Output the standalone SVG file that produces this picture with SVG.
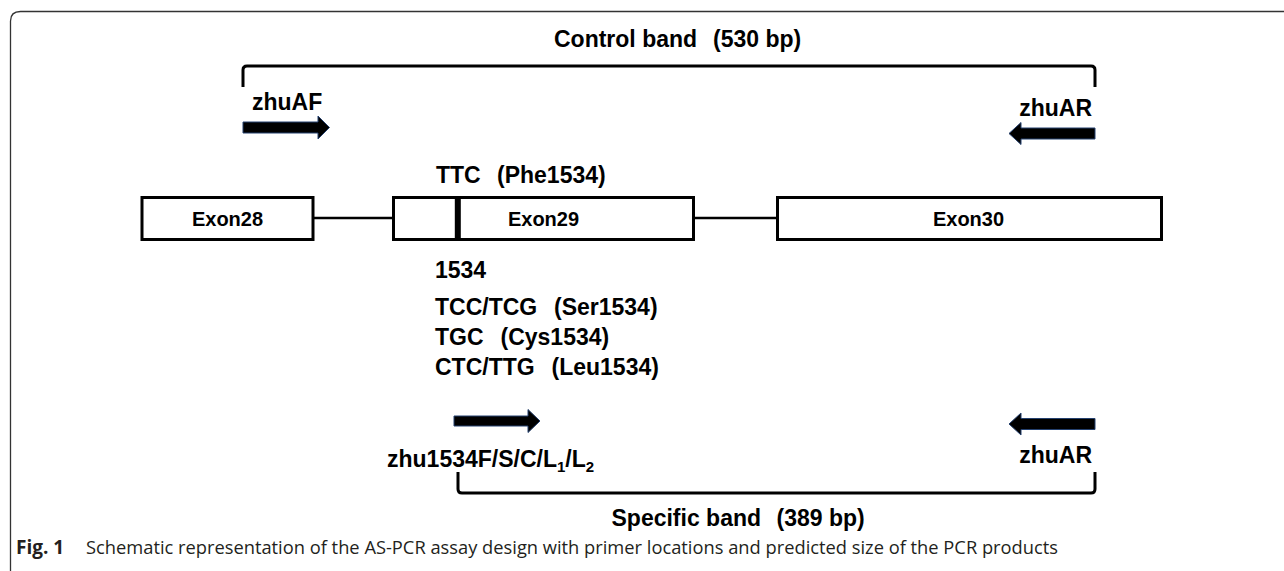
<svg xmlns="http://www.w3.org/2000/svg" width="1284" height="571" viewBox="0 0 1284 571">
<style>
.t{font-family:"Liberation Sans",Arial,sans-serif;font-weight:bold;font-size:23px;fill:#000}
.ex{font-family:"Liberation Sans",Arial,sans-serif;font-weight:bold;font-size:20px;fill:#000;text-anchor:middle}
.box{fill:#fff;stroke:#000;stroke-width:3}
.intron{stroke:#000;stroke-width:2.5;fill:none}
.br{stroke:#000;stroke-width:3;fill:none}
.arr{fill:#000;stroke:#24406e;stroke-width:1}
.cap{font-family:"Open Sans","Noto Sans",sans-serif;font-size:19px;fill:#231f20}
</style>
<rect x="0" y="0" width="1284" height="571" fill="#fff"/>
<path d="M10.5,571 V21 Q10.5,11.5 20.5,11.5 H1284" fill="none" stroke="#333" stroke-width="1.3"/>

<g id="control-band">
<path class="br" d="M243,87 V70 Q243,66 247,66 H1091 Q1095,66 1095,70 V87"/>
<text class="t" y="47"><tspan x="554">Control band</tspan><tspan x="713">(530 bp)</tspan></text>
</g>

<g id="zhuAF">
<text class="t" x="252" y="110">zhuAF</text>
<polygon class="arr" points="243,122 318,122 318,116 329.5,127.5 318,139 318,133 243,133"/>
</g>

<g id="zhuAR-top">
<text class="t" x="1092" y="116" text-anchor="end">zhuAR</text>
<polygon class="arr" points="1095,128 1021,128 1021,122.5 1009,133.5 1021,144.5 1021,139 1095,139"/>
</g>

<g id="ttc-label">
<text class="t" y="183"><tspan x="436">TTC</tspan><tspan x="497">(Phe1534)</tspan></text>
</g>

<g id="connectors">
<line class="intron" x1="314" y1="218" x2="393" y2="218"/>
<line class="intron" x1="694" y1="218" x2="777" y2="218"/>
</g>

<g id="exon28">
<rect class="box" x="142" y="197.5" width="171" height="42"/>
<text class="ex" x="227.5" y="226">Exon28</text>
</g>

<g id="exon29">
<rect class="box" x="393.5" y="197.5" width="300" height="42"/>
<line x1="457.8" y1="197" x2="457.8" y2="240" stroke="#000" stroke-width="6"/>
<text class="ex" x="543.5" y="226">Exon29</text>
</g>

<g id="exon30">
<rect class="box" x="777.5" y="197.5" width="384" height="42"/>
<text class="ex" x="968.5" y="226">Exon30</text>
</g>

<g id="mutations">
<text class="t" x="435" y="278">1534</text>
<text class="t" y="315"><tspan x="435">TCC/TCG</tspan><tspan x="554">(Ser1534)</tspan></text>
<text class="t" y="345"><tspan x="435">TGC</tspan><tspan x="500.5">(Cys1534)</tspan></text>
<text class="t" y="374.5"><tspan x="435">CTC/TTG</tspan><tspan x="551.5">(Leu1534)</tspan></text>
</g>

<g id="zhu1534F">
<polygon class="arr" points="454,416 528,416 528,409.5 540,421 528,432.5 528,426 454,426"/>
<text class="t" x="387" y="466.5">zhu1534F/S/C/L<tspan font-size="15" dy="5">1</tspan><tspan dy="-5">/L</tspan><tspan font-size="15" dy="5">2</tspan></text>
</g>

<g id="zhuAR-bottom">
<polygon class="arr" points="1095,418.5 1021,418.5 1021,413 1009,424 1021,435 1021,429.5 1095,429.5"/>
<text class="t" x="1092" y="463" text-anchor="end">zhuAR</text>
</g>

<g id="specific-band">
<path class="br" d="M458,472 V489 Q458,493 462,493 H1091 Q1095,493 1095,489 V472"/>
<text class="t" y="526"><tspan x="611.5">Specific band</tspan><tspan x="776.5">(389 bp)</tspan></text>
</g>

<g id="caption">
<text class="cap" x="16" y="554" font-weight="bold" font-size="21">Fig. 1</text>
<text class="cap" x="86" y="554" textLength="972" lengthAdjust="spacingAndGlyphs">Schematic representation of the AS-PCR assay design with primer locations and predicted size of the PCR products</text>
</g>
</svg>
